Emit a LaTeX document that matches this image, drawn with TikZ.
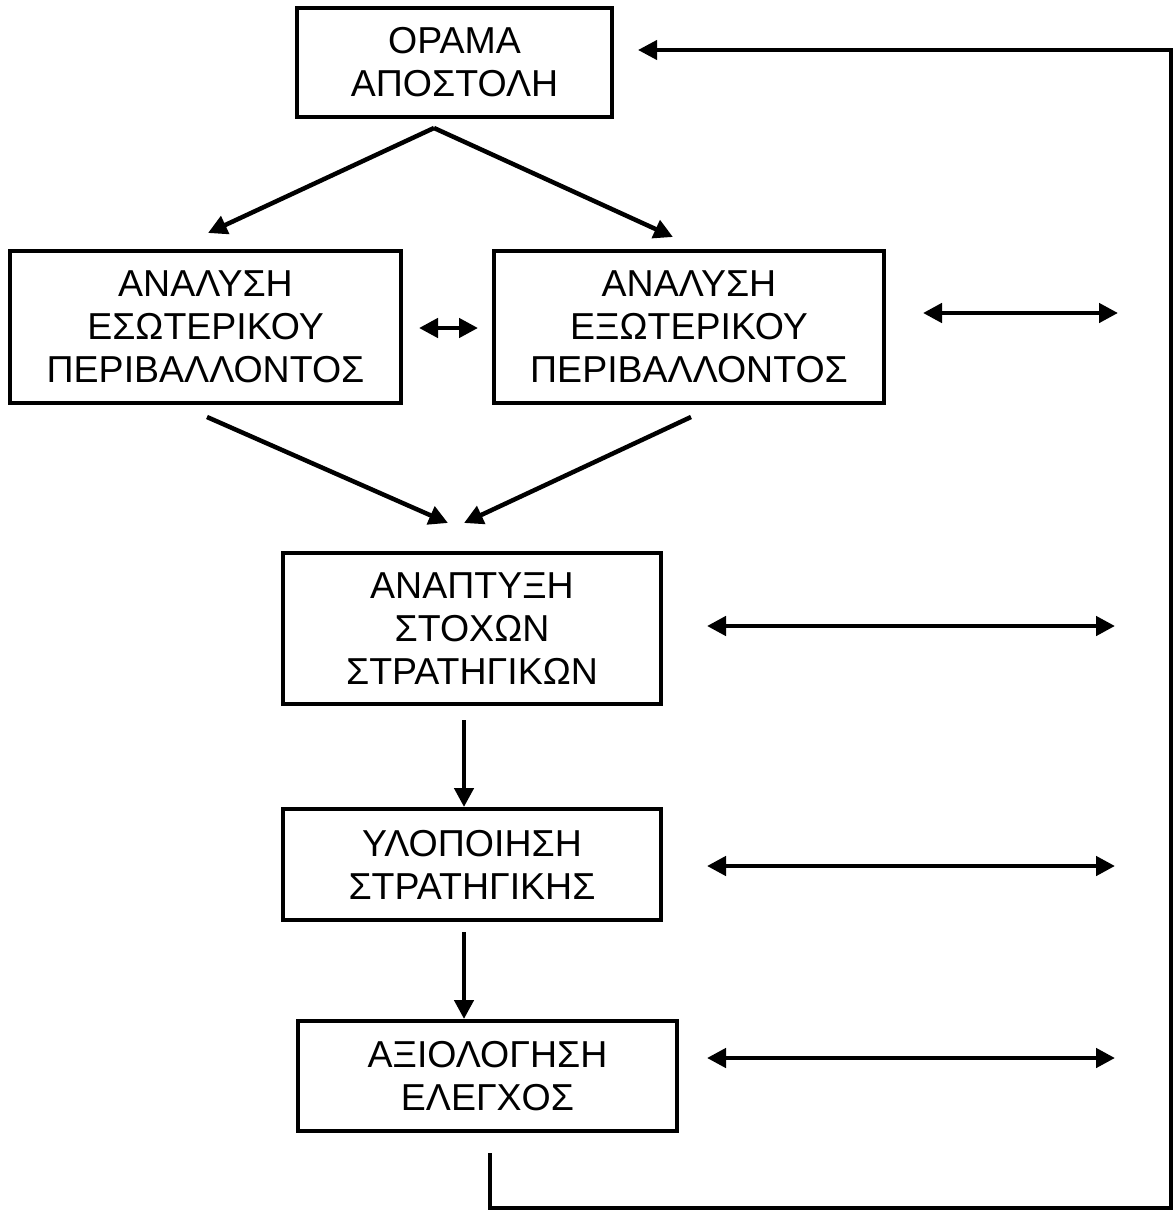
\documentclass[tikz,border=0pt]{standalone}
\usepackage{fontspec}
\setmainfont{Liberation Sans}
\usetikzlibrary{arrows.meta}
\begin{document}
\begin{tikzpicture}[x=1pt,y=-1pt,
  box/.style={draw,line width=3.5pt,inner sep=0pt,align=center,font=\fontsize{37.5}{43}\selectfont},
  tipx/.tip={Triangle[length=19pt,width=19pt]},
  conn/.style={line width=4.5pt,-tipx},
  dconn/.style={line width=4.5pt,tipx-tipx},
  fb/.style={line width=4pt,line join=miter}]
\useasboundingbox (0,0) rectangle (1174,1212);
% boxes
\node[box,minimum width=315pt,minimum height=109pt] (vision) at (454.5,62.5) {ΟΡΑΜΑ\\ΑΠΟΣΤΟΛΗ};
\node[box,minimum width=391pt,minimum height=152pt] (internal) at (205.5,327) {ΑΝΑΛΥΣΗ\\ΕΣΩΤΕΡΙΚΟΥ\\ΠΕΡΙΒΑΛΛΟΝΤΟΣ};
\node[box,minimum width=390pt,minimum height=152pt] (external) at (689,327) {ΑΝΑΛΥΣΗ\\ΕΞΩΤΕΡΙΚΟΥ\\ΠΕΡΙΒΑΛΛΟΝΤΟΣ};
\node[box,minimum width=378pt,minimum height=151pt] (goals) at (472,628.5) {ΑΝΑΠΤΥΞΗ\\ΣΤΟΧΩΝ\\ΣΤΡΑΤΗΓΙΚΩΝ};
\node[box,minimum width=378pt,minimum height=111pt] (impl) at (472,864.5) {ΥΛΟΠΟΙΗΣΗ\\ΣΤΡΑΤΗΓΙΚΗΣ};
\node[box,minimum width=379pt,minimum height=110pt] (eval) at (487.5,1076) {ΑΞΙΟΛΟΓΗΣΗ\\ΕΛΕΓΧΟΣ};
% coordinates
\coordinate (split) at (434,128);
\coordinate (tipL) at (208,233);
\coordinate (tipR) at (673,237);
\coordinate (inA) at (419,328);
\coordinate (inB) at (478,328);
\coordinate (d2a) at (923,313);
\coordinate (d2b) at (1118,313);
\coordinate (dL1) at (207,417);
\coordinate (dL2) at (448,523);
\coordinate (dR1) at (691,417);
\coordinate (dR2) at (464,523);
\coordinate (v1a) at (464,720);
\coordinate (v1b) at (464,807);
\coordinate (v2a) at (464,932);
\coordinate (v2b) at (464,1019);
\coordinate (d4a) at (707,626);
\coordinate (d4b) at (1115,626);
\coordinate (d5a) at (707,866);
\coordinate (d5b) at (1115,866);
\coordinate (d6a) at (707,1058);
\coordinate (d6b) at (1115,1058);
\coordinate (fbS) at (490,1153);
\coordinate (fbC1) at (490,1208);
\coordinate (fbC2) at (1171,1208);
\coordinate (fbC3) at (1171,50);
\coordinate (fbE) at (638,50);
% connectors
\draw[conn] (split) -- (tipL);
\draw[conn] (split) -- (tipR);
\draw[dconn] (inA) -- (inB);
\draw[dconn] (d2a) -- (d2b);
\draw[conn] (dL1) -- (dL2);
\draw[conn] (dR1) -- (dR2);
\draw[conn] (v1a) -- (v1b);
\draw[conn] (v2a) -- (v2b);
\draw[dconn] (d4a) -- (d4b);
\draw[dconn] (d5a) -- (d5b);
\draw[dconn] (d6a) -- (d6b);
\draw[fb,-tipx] (fbS) -- (fbC1) -- (fbC2) -- (fbC3) -- (fbE);
\end{tikzpicture}
\end{document}
